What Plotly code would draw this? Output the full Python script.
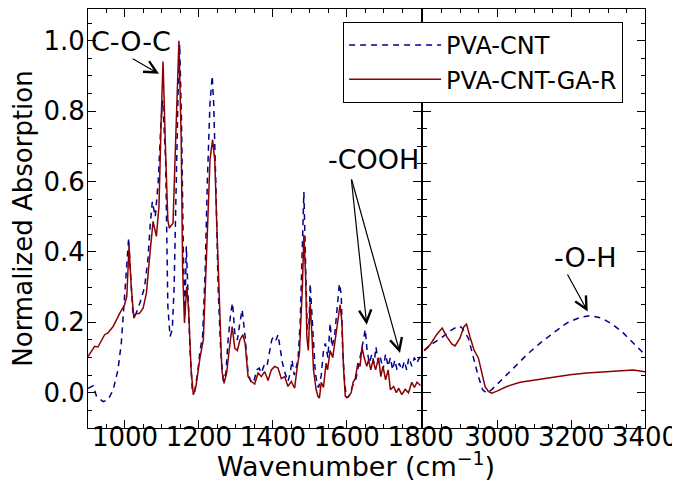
import plotly.graph_objects as go

# ---------------- data ----------------
# PVA-CNT-GA-R, fingerprint region
gar_left_wn = [900, 918, 927, 945, 954, 968, 986, 999, 1005, 1011, 1017, 1024, 1030, 1039,
               1049, 1058, 1066, 1076, 1085, 1092, 1098, 1103, 1110, 1116, 1120, 1130, 1136,
               1146, 1152, 1156, 1161, 1167, 1172, 1179, 1185, 1192, 1203, 1212, 1221, 1230,
               1237, 1243, 1248, 1255, 1262, 1268, 1275, 1282, 1290, 1297, 1304, 1311, 1319,
               1325, 1333, 1342, 1351, 1360, 1369, 1378, 1387, 1396, 1405, 1414, 1423, 1432,
               1441, 1450, 1459, 1465, 1472, 1480, 1484, 1489, 1492, 1496, 1501, 1506, 1510,
               1517, 1522, 1526, 1531, 1537, 1544, 1548, 1555, 1562, 1570, 1576, 1582, 1587,
               1591, 1596, 1603, 1612, 1617, 1623, 1630, 1636, 1641, 1647, 1654, 1659, 1665,
               1671, 1678, 1686, 1692, 1698, 1705, 1712, 1718, 1727, 1734, 1740, 1749, 1758,
               1767, 1776, 1783, 1790, 1800]
gar_left_val = [0.103, 0.132, 0.130, 0.165, 0.170, 0.188, 0.226, 0.250, 0.274, 0.416, 0.300,
                0.212, 0.225, 0.225, 0.240, 0.283, 0.378, 0.487, 0.444, 0.530, 0.776, 0.941,
                0.681, 0.490, 0.468, 0.482, 0.681, 1.000, 0.728, 0.350, 0.198, 0.302, 0.240,
                0.065, -0.006, 0.018, 0.100, 0.150, 0.400, 0.662, 0.719, 0.660, 0.490, 0.255,
                0.065, 0.027, 0.056, 0.122, 0.188, 0.127, 0.120, 0.150, 0.165, 0.140, 0.046,
                0.032, 0.025, 0.056, 0.046, 0.060, 0.035, 0.065, 0.075, 0.070, 0.040, 0.046,
                0.018, 0.032, 0.013, 0.065, 0.113, 0.302, 0.449, 0.320, 0.160, 0.120, 0.255,
                0.160, 0.065, 0.010, -0.010, -0.015, 0.030, 0.015, 0.084, 0.065, 0.120, 0.100,
                0.160, 0.217, 0.250, 0.200, 0.075, -0.010, -0.013, 0.000, 0.030, 0.040, 0.084,
                0.075, 0.130, 0.100, 0.075, 0.093, 0.065, 0.093, 0.065, 0.100, 0.046, 0.075,
                0.037, 0.065, 0.009, 0.018, 0.000, 0.013, -0.005, 0.010, 0.000, 0.030, 0.015,
                0.030, 0.020]

# PVA-CNT, fingerprint region
cnt_left_wn = [900, 914, 923, 941, 954, 968, 981, 990, 997, 1004, 1010, 1015, 1022, 1030, 1042,
               1053, 1062, 1068, 1074, 1082, 1090, 1097, 1102, 1110, 1113, 1116, 1122, 1128,
               1133, 1138, 1144, 1148, 1153, 1158, 1162, 1166, 1170, 1176, 1182, 1188, 1197,
               1203, 1210, 1217, 1223, 1230, 1236, 1240, 1246, 1252, 1259, 1266, 1273, 1279,
               1286, 1291, 1297, 1304, 1311, 1317, 1325, 1333, 1342, 1350, 1356, 1363, 1369,
               1377, 1384, 1391, 1397, 1402, 1409, 1414, 1420, 1426, 1433, 1441, 1447, 1452,
               1458, 1463, 1468, 1474, 1480, 1484, 1489, 1493, 1498, 1501, 1507, 1515, 1521,
               1524, 1531, 1537, 1542, 1549, 1555, 1560, 1567, 1573, 1580, 1585, 1589, 1595,
               1600, 1607, 1616, 1625, 1632, 1639, 1646, 1650, 1655, 1661, 1668, 1674, 1679,
               1685, 1691, 1698, 1705, 1712, 1718, 1724, 1730, 1736, 1742, 1749, 1756, 1762,
               1768, 1776, 1783, 1789, 1797, 1800]
cnt_left_val = [0.013, 0.020, -0.010, -0.025, -0.020, 0.008, 0.065, 0.140, 0.245, 0.340, 0.440,
                0.340, 0.217, 0.225, 0.260, 0.300, 0.378, 0.473, 0.543, 0.500, 0.600, 0.760,
                0.830, 0.660, 0.440, 0.245, 0.160, 0.180, 0.300, 0.586, 0.870, 0.990, 0.770,
                0.397, 0.220, 0.416, 0.290, 0.120, 0.010, 0.000, 0.060, 0.120, 0.160, 0.350,
                0.605, 0.823, 0.900, 0.820, 0.586, 0.300, 0.120, 0.034, 0.056, 0.150, 0.226,
                0.255, 0.170, 0.150, 0.200, 0.236, 0.160, 0.056, 0.027, 0.037, 0.065, 0.070,
                0.056, 0.080, 0.075, 0.120, 0.150, 0.160, 0.150, 0.165, 0.120, 0.085, 0.056,
                0.032, 0.056, 0.093, 0.050, 0.075, 0.093, 0.200, 0.390, 0.570, 0.350, 0.180,
                0.200, 0.310, 0.200, 0.056, 0.020, 0.015, 0.050, 0.120, 0.140, 0.100, 0.198,
                0.130, 0.160, 0.240, 0.310, 0.280, 0.120, 0.020, -0.015, -0.008, 0.020, 0.040,
                0.075, 0.110, 0.155, 0.180, 0.120, 0.084, 0.110, 0.084, 0.130, 0.084, 0.100,
                0.065, 0.110, 0.075, 0.100, 0.065, 0.093, 0.065, 0.084, 0.065, 0.090, 0.065,
                0.100, 0.075, 0.100, 0.084, 0.100, 0.100]

# high-wavenumber region
gar_right_wn = [2802, 2818, 2836, 2851, 2863, 2877, 2886, 2899, 2910, 2917, 2926, 2937, 2949,
                2958, 2967, 2976, 2985, 2998, 3026, 3062, 3107, 3152, 3197, 3242, 3287, 3332,
                3368, 3400]
gar_right_val = [0.120, 0.136, 0.165, 0.184, 0.160, 0.139, 0.133, 0.155, 0.188, 0.195, 0.160,
                 0.122, 0.099, 0.056, 0.018, 0.004, -0.001, 0.004, 0.018, 0.030, 0.037, 0.045,
                 0.051, 0.056, 0.059, 0.062, 0.065, 0.060]

cnt_right_wn = [2802, 2827, 2854, 2877, 2895, 2904, 2922, 2935, 2949, 2961, 2972, 2985, 3008,
                3044, 3080, 3116, 3152, 3188, 3224, 3251, 3283, 3314, 3341, 3368, 3400]
cnt_right_val = [0.120, 0.141, 0.160, 0.179, 0.190, 0.185, 0.155, 0.103, 0.046, 0.008, -0.001,
                 0.009, 0.032, 0.070, 0.108, 0.141, 0.170, 0.198, 0.214, 0.219, 0.212, 0.193,
                 0.170, 0.141, 0.108]

series_names = ["PVA-CNT", "PVA-CNT-GA-R"]
left_ticks = [1000, 1200, 1400, 1600, 1800]
right_ticks = [2800, 3000, 3200, 3400]
right_ticktext = ["", "3000", "3200", "3400"]
y_ticks = [0.0, 0.2, 0.4, 0.6, 0.8, 1.0]

# ---------------- styling ----------------
FONT = "DejaVu Sans"
BLUE = "#00008B"
RED = "#8B0000"
DASH = "6px,5px"

fig = go.Figure()
fig.add_trace(go.Scatter(x=cnt_left_wn, y=cnt_left_val, mode="lines", name=series_names[0],
                         legendgroup="cnt", line=dict(color=BLUE, width=1.5, dash=DASH),
                         xaxis="x", yaxis="y"))
fig.add_trace(go.Scatter(x=gar_left_wn, y=gar_left_val, mode="lines", name=series_names[1],
                         legendgroup="gar", line=dict(color=RED, width=1.5),
                         xaxis="x", yaxis="y"))
fig.add_trace(go.Scatter(x=cnt_right_wn, y=cnt_right_val, mode="lines", name=series_names[0],
                         legendgroup="cnt", showlegend=False,
                         line=dict(color=BLUE, width=1.5, dash=DASH), xaxis="x2", yaxis="y2"))
fig.add_trace(go.Scatter(x=gar_right_wn, y=gar_right_val, mode="lines", name=series_names[1],
                         legendgroup="gar", showlegend=False,
                         line=dict(color=RED, width=1.5), xaxis="x2", yaxis="y2"))

axis_common = dict(showline=True, linecolor="black", linewidth=1, mirror="allticks",
                   ticks="inside", ticklen=8, tickcolor="black", showgrid=False, zeroline=False,
                   automargin=False,
                   tickfont=dict(family=FONT, size=26, color="black"))

# the page body adds an 8 px offset; the figure is sized/margined to compensate
fig.update_layout(
    width=672, height=479,
    margin=dict(l=80, r=35, t=1, b=59),
    paper_bgcolor="white", plot_bgcolor="white",
    font=dict(family=FONT, color="black"),
    xaxis=dict(domain=[0, 0.5973], range=[900, 1800], tickmode="array", tickvals=left_ticks,
               ticklabelstandoff=-14,
               minor=dict(tickmode="linear", tick0=900, dtick=50, ticks="inside", ticklen=4,
                          tickcolor="black"),
               anchor="y", **axis_common),
    xaxis2=dict(domain=[0.602, 1], range=[2800, 3400], tickmode="array", tickvals=right_ticks,
                ticktext=right_ticktext, ticklabelstandoff=-14,
                minor=dict(tickmode="linear", tick0=2800, dtick=50, ticks="inside", ticklen=4,
                           tickcolor="black"),
                anchor="y2", **axis_common),
    yaxis=dict(range=[-0.1, 1.09], tickmode="array", tickvals=y_ticks, tickformat=".1f",
               ticklabelstandoff=-3,
               minor=dict(tickmode="linear", tick0=0, dtick=0.05, ticks="inside", ticklen=4,
                          tickcolor="black"),
               anchor="x",
               title=dict(text="Normalized Absorption", font=dict(family=FONT, size=26),
                          standoff=5),
               **axis_common),
    yaxis2=dict(range=[-0.1, 1.09], matches="y", showticklabels=False, tickmode="array",
                tickvals=y_ticks,
                minor=dict(tickmode="linear", tick0=0, dtick=0.05, ticks="inside", ticklen=4,
                           tickcolor="black"),
                anchor="x2", **axis_common),
    legend=dict(x=0.458, y=0.969, xanchor="left", yanchor="top", bgcolor="white",
                bordercolor="black", borderwidth=1, itemwidth=92, tracegroupgap=0,
                entrywidth=194, entrywidthmode="pixels",
                font=dict(family=FONT, size=24, color="black")),
    showlegend=True,
)

# x-axis title spanning both panels
fig.add_annotation(text="Wavenumber (cm<sup>\u22121</sup>)", xref="paper", yref="paper",
                   x=0.482, y=-0.088, xanchor="center", yanchor="middle", showarrow=False,
                   font=dict(family=FONT, size=27, color="black"))

# band labels
ann_font = dict(family=FONT, size=27, color="black")
fig.add_annotation(text="C-O-C", x=1017, y=0.998, xref="x", yref="y", showarrow=False,
                   font=ann_font)
fig.add_annotation(text="-COOH", x=1673, y=0.662, xref="x", yref="y", showarrow=False,
                   font=ann_font)
fig.add_annotation(text="-O-H", x=3238, y=0.385, xref="x2", yref="y2", showarrow=False,
                   font=ann_font)

# arrows (tail -> head)
arrows = [
    ("x", "y", 1017, 0.951, 1092, 0.906),
    ("x", "y", 1612, 0.610, 1654, 0.193),
    ("x", "y", 1612, 0.610, 1744, 0.113),
    ("x2", "y2", 3188, 0.340, 3245, 0.231),
]
for xr, yr, tx, ty, hx, hy in arrows:
    fig.add_annotation(text="", x=hx, y=hy, ax=tx, ay=ty, xref=xr, yref=yr, axref=xr, ayref=yr,
                       showarrow=True, arrowhead=5, arrowsize=2, arrowwidth=1.2,
                       arrowcolor="black")

fig.write_html("out.html")
